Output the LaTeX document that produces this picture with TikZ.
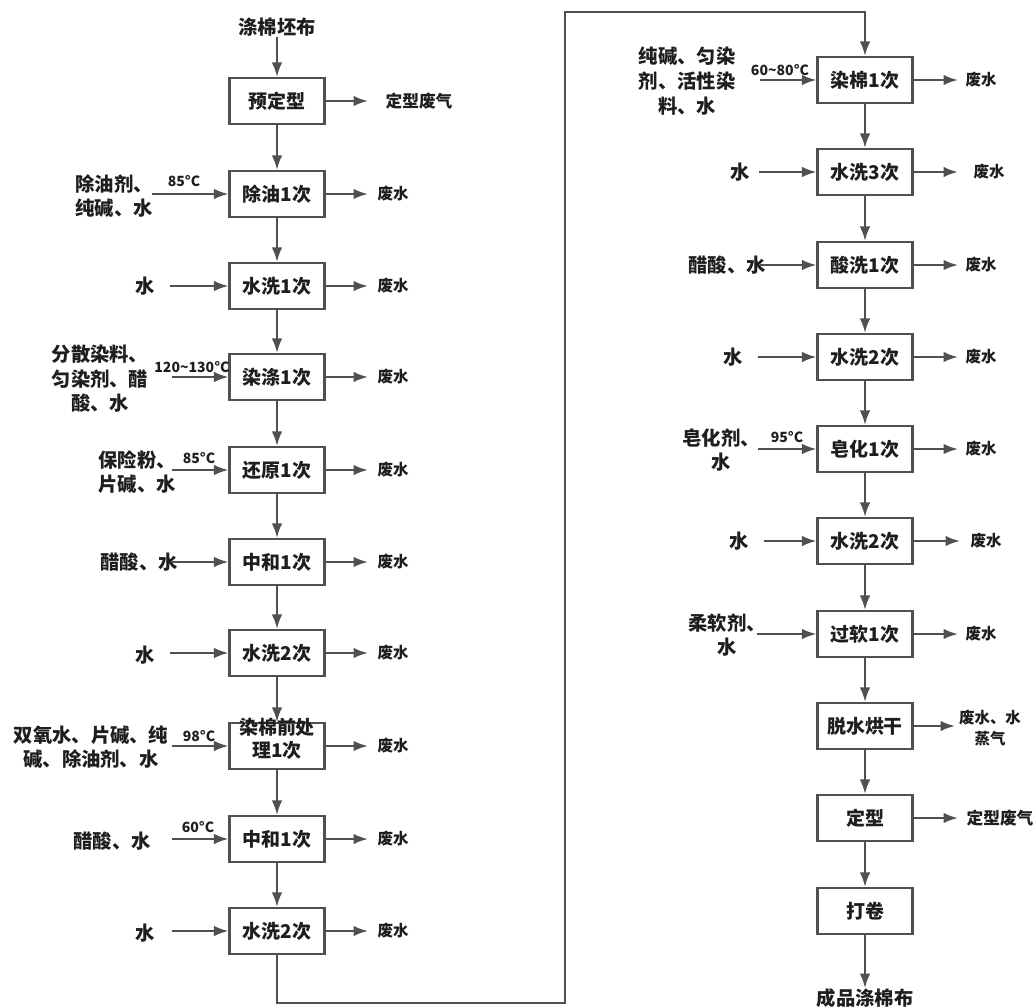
\documentclass[tikz,border=0pt]{standalone}
\usepackage{fontspec}
\setmainfont{Noto Sans CJK SC}
\usetikzlibrary{arrows.meta,positioning}
\definecolor{linegray}{RGB}{80,80,80}
\definecolor{inkgray}{RGB}{30,30,30}

\begin{document}
\begin{tikzpicture}[x=0.02cm,y=-0.02cm,>=Latex,
proc box/.style={draw=linegray,line width=1.2pt,minimum width=1.9cm,minimum height=0.92cm,inner sep=1pt,align=center,text=inkgray,font=\fontsize{10.8}{13.5}\selectfont\bfseries},
flow/.style={-{Latex[length=2.9mm,width=2.1mm]},draw=linegray,line width=1.2pt},
in label/.style={align=center,inner sep=0pt,text=inkgray,font=\fontsize{11}{14}\selectfont\bfseries},
out label/.style={align=center,inner sep=0pt,text=inkgray,font=\fontsize{8.8}{12}\selectfont\bfseries},
temp label/.style={inner sep=0pt,text=inkgray,font=\fontsize{8}{9}\selectfont\bfseries}]
\useasboundingbox (0,0) rectangle (1033,1007);

% left column
\node[in label] (src) at (277,27) {涤棉坯布};
\node[proc box] (L0) at (277,101) {预定型};
\node[proc box] (L1) at (277,194) {除油1次};
\node[proc box] (L2) at (277,286) {水洗1次};
\node[proc box] (L3) at (277,377) {染涤1次};
\node[proc box] (L4) at (277,470) {还原1次};
\node[proc box] (L5) at (277,562) {中和1次};
\node[proc box] (L6) at (277,653) {水洗2次};
\node[proc box] (L7) at (277,746) {\smash{\begin{tabular}{@{}c@{}}染棉前处\\理1次\end{tabular}}};
\node[proc box] (L8) at (277,839) {中和1次};
\node[proc box] (L9) at (277,931) {水洗2次};

\draw[flow] (src) -- (L0);
\draw[flow] (L0) -- (L1);
\draw[flow] (L1) -- (L2);
\draw[flow] (L2) -- (L3);
\draw[flow] (L3) -- (L4);
\draw[flow] (L4) -- (L5);
\draw[flow] (L5) -- (L6);
\draw[flow] (L6) -- (L7);
\draw[flow] (L7) -- (L8);
\draw[flow] (L8) -- (L9);

% left inputs
\node[in label] (m1) at (114,196) {除油剂、\\纯碱、水};
\node[in label] (m2) at (145,286) {水};
\node[in label] (m3) at (100,379) {分散染料、\\匀染剂、醋\\酸、水};
\node[in label] (m4) at (137,472) {保险粉、\\片碱、水};
\node[in label] (m5) at (139,562) {醋酸、水};
\node[in label] (m6) at (145,655) {水};
\node[in label] (m7) at (91,747) {双氧水、片碱、纯\\碱、除油剂、水};
\node[in label] (m8) at (112,841) {醋酸、水};
\node[in label] (m9) at (145,933) {水};
\coordinate (i1) at (152,194);
\coordinate (i2) at (170,286);
\coordinate (i3) at (172,377);
\coordinate (i4) at (172,470);
\coordinate (i5) at (172,562);
\coordinate (i6) at (170,653);
\coordinate (i7) at (172,746);
\coordinate (i8) at (172,839);
\coordinate (i9) at (172,931);
\draw[flow] (i1) -- (L1);
\draw[flow] (i2) -- (L2);
\draw[flow] (i3) -- (L3);
\draw[flow] (i4) -- (L4);
\draw[flow] (i5) -- (L5);
\draw[flow] (i6) -- (L6);
\draw[flow] (i7) -- (L7);
\draw[flow] (i8) -- (L8);
\draw[flow] (i9) -- (L9);
\node[temp label] (t1) at (184,181) {85°C};
\node[temp label] (t3) at (192,367) {120\textasciitilde130°C};
\node[temp label] (t4) at (199,458) {85°C};
\node[temp label] (t7) at (199,736) {98°C};
\node[temp label] (t8) at (198,827) {60°C};

% left outputs
\coordinate (o0) at (368,101);
\coordinate (o1) at (368,194);
\coordinate (o2) at (368,286);
\coordinate (o3) at (368,377);
\coordinate (o4) at (368,470);
\coordinate (o5) at (368,562);
\coordinate (o6) at (368,653);
\coordinate (o7) at (368,746);
\coordinate (o8) at (368,839);
\coordinate (o9) at (368,931);
\foreach \k in {0,...,9} {\draw[flow] (L\k) -- (o\k);}
\node[out label,font=\fontsize{9.5}{12}\selectfont\bfseries] (w0) at (419,101) {定型废气};
\node[out label] (w1) at (393,194) {废水};
\node[out label] (w2) at (393,286) {废水};
\node[out label] (w3) at (393,377) {废水};
\node[out label] (w4) at (393,470) {废水};
\node[out label] (w5) at (393,562) {废水};
\node[out label] (w6) at (393,653) {废水};
\node[out label] (w7) at (393,746) {废水};
\node[out label] (w8) at (393,839) {废水};
\node[out label] (w9) at (393,931) {废水};

% right column
\node[proc box] (R0) at (865,80) {染棉1次};
\node[proc box] (R1) at (865,172) {水洗3次};
\node[proc box] (R2) at (865,265) {酸洗1次};
\node[proc box] (R3) at (865,357) {水洗2次};
\node[proc box] (R4) at (865,449) {皂化1次};
\node[proc box] (R5) at (865,541) {水洗2次};
\node[proc box] (R6) at (865,634) {过软1次};
\node[proc box] (R7) at (865,726) {脱水烘干};
\node[proc box] (R8) at (865,818) {定型};
\node[proc box] (R9) at (865,911) {打卷};
\node[in label] (dst) at (865,998) {成品涤棉布};

\coordinate (c1) at (565,1003);
\coordinate (c2) at (565,12);
\draw[flow] (L9.south) |- (c1) -- (c2) -| (R0.north);
\draw[flow] (R0) -- (R1);
\draw[flow] (R1) -- (R2);
\draw[flow] (R2) -- (R3);
\draw[flow] (R3) -- (R4);
\draw[flow] (R4) -- (R5);
\draw[flow] (R5) -- (R6);
\draw[flow] (R6) -- (R7);
\draw[flow] (R7) -- (R8);
\draw[flow] (R8) -- (R9);
\draw[flow] (R9) -- (dst);

% right inputs
\node[in label] (n0) at (687,81) {纯碱、匀染\\剂、活性染\\料、水};
\node[in label] (n1) at (740,172) {水};
\node[in label] (n2) at (727,265) {醋酸、水};
\node[in label] (n3) at (733,357) {水};
\node[in label] (n4) at (721,450) {皂化剂、\\水};
\node[in label] (n5) at (739,541) {水};
\node[in label] (n6) at (727,635) {柔软剂、\\水};
\coordinate (j0) at (760,80);
\coordinate (j1) at (759,172);
\coordinate (j2) at (760,265);
\coordinate (j3) at (758,357);
\coordinate (j4) at (758,449);
\coordinate (j5) at (764,541);
\coordinate (j6) at (757,634);
\foreach \k in {0,...,6} {\draw[flow] (j\k) -- (R\k);}
\node[temp label] (u0) at (780,70) {60\textasciitilde80°C};
\node[temp label] (u4) at (787,437) {95°C};

% right outputs
\coordinate (p0) at (958,80);
\coordinate (p1) at (958,172);
\coordinate (p2) at (958,265);
\coordinate (p3) at (958,357);
\coordinate (p4) at (958,449);
\coordinate (p5) at (960,541);
\coordinate (p6) at (958,634);
\coordinate (p7) at (955,726);
\coordinate (p8) at (958,818);
\foreach \k in {0,...,8} {\draw[flow] (R\k) -- (p\k);}
\node[out label] (v0) at (981,80) {废水};
\node[out label] (v1) at (989,172) {废水};
\node[out label] (v2) at (981,265) {废水};
\node[out label] (v3) at (981,357) {废水};
\node[out label] (v4) at (981,449) {废水};
\node[out label] (v5) at (986,541) {废水};
\node[out label] (v6) at (981,634) {废水};
\node[out label] (v7) at (990,728) {废水、水\\蒸气};
\node[out label,font=\fontsize{9.5}{12}\selectfont\bfseries] (v8) at (1000,818) {定型废气};
\end{tikzpicture}
\end{document}
